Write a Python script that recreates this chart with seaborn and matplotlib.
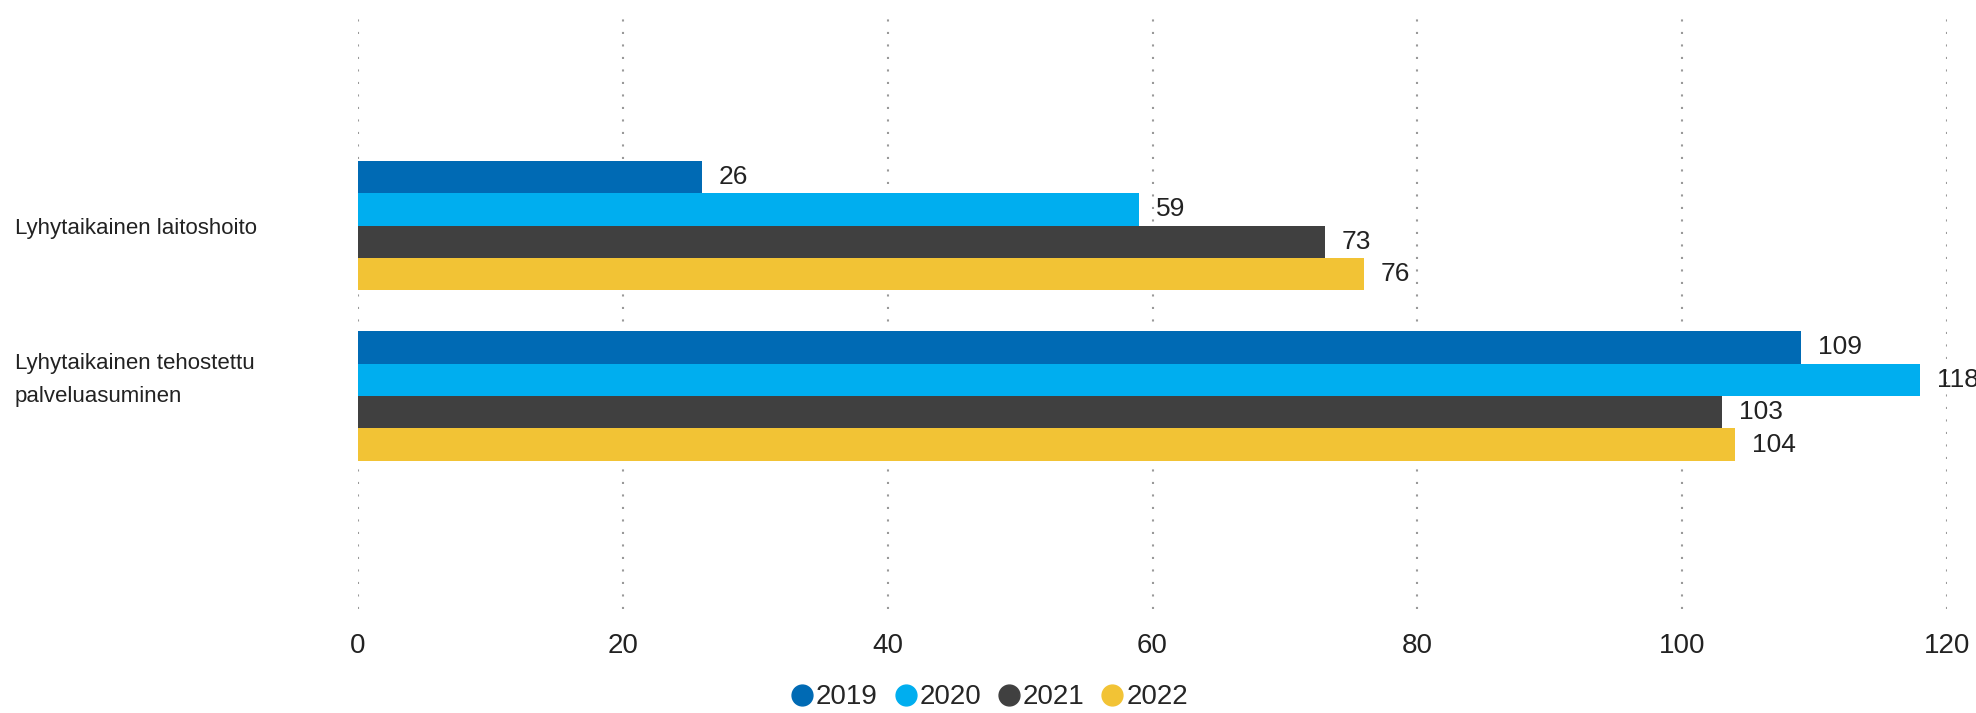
import matplotlib
matplotlib.use("Agg")
import matplotlib.pyplot as plt
import matplotlib.transforms as mtransforms
import seaborn as sns
import pandas as pd
from matplotlib.lines import Line2D

# Data
kategoriat = ["Lyhytaikainen laitoshoito", "Lyhytaikainen tehostettu\npalveluasuminen"]
vuodet = ["2019", "2020", "2021", "2022"]
arvot_2019 = [26, 109]
arvot_2020 = [59, 118]
arvot_2021 = [73, 103]
arvot_2022 = [76, 104]
varit = ["#006AB4", "#00AEEF", "#404040", "#F2C335"]
x_ticks = [0, 20, 40, 60, 80, 100, 120]

rivit = []
for vuosi, arvot in zip(vuodet, [arvot_2019, arvot_2020, arvot_2021, arvot_2022]):
    for kat, arvo in zip(kategoriat, arvot):
        rivit.append({"kategoria": kat, "vuosi": vuosi, "arvo": arvo})
df = pd.DataFrame(rivit)

sns.set_style("white")
plt.rcParams["font.family"] = ["Liberation Sans", "DejaVu Sans"]

fig = plt.figure(figsize=(19.76, 7.13), dpi=100)
ax = fig.add_axes([0.1812, 0.1459, 0.8041, 0.8364])

sns.barplot(data=df, y="kategoria", x="arvo", hue="vuosi", orient="h",
            palette=varit, width=0.76, saturation=1, ax=ax, legend=False,
            errorbar=None, linewidth=0)

# Value labels, nudged slightly below the bar centre like in the reference
alas = mtransforms.ScaledTranslation(0, -0.03, fig.dpi_scale_trans)
for cont in ax.containers:
    for t in ax.bar_label(cont, padding=12, fontsize=19, color="#222222"):
        t.set_transform(t.get_transform() + alas)

ax.set_xlim(0, 120)
ax.set_ylim(2.25, -1.25)
ax.set_xticks(x_ticks)
ax.set_xlabel("")
ax.set_ylabel("")
ax.grid(axis="x", color="#999999", linestyle=(0, (1, 5)), linewidth=1.5)
ax.grid(axis="y", visible=False)
ax.set_axisbelow(True)
for s in ax.spines.values():
    s.set_visible(False)

ax.tick_params(axis="x", length=0, pad=17, labelsize=20, labelcolor="#222222")
ax.tick_params(axis="y", length=0, pad=247, labelsize=16, labelcolor="#222222")
siirto = mtransforms.ScaledTranslation(0, 0.24, fig.dpi_scale_trans)
for i, lbl in enumerate(ax.get_yticklabels()):
    lbl.set_horizontalalignment("left")
    lbl.set_linespacing(1.75)
    if i == 1:
        lbl.set_transform(lbl.get_transform() + siirto)

kahvat = [Line2D([0], [0], marker="o", linestyle="", markersize=15,
                 markerfacecolor=c, markeredgecolor=c) for c in varit]
fig.legend(kahvat, vuodet, loc="center", bbox_to_anchor=(0.5, 0.022),
           ncol=4, frameon=False, fontsize=20, handletextpad=0.0,
           columnspacing=0.5, handlelength=1.0)

plt.savefig("out.png", dpi=100)
plt.close()
